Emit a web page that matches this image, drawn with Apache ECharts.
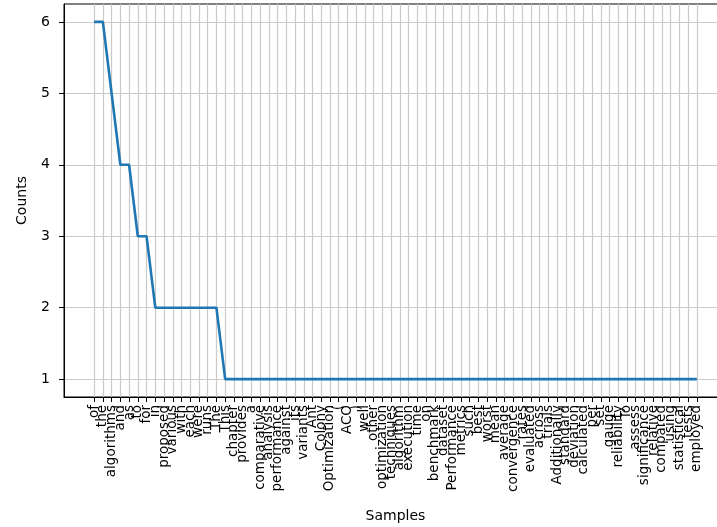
<!DOCTYPE html>
<html>
<head>
<meta charset="utf-8">
<script src="https://cdn.jsdelivr.net/npm/echarts@6/dist/echarts.min.js"></script>
<style>
  html, body { margin: 0; padding: 0; background: #fff; }
  #chart { width: 717px; height: 527px; }
</style>
</head>
<body>
<div id="chart"></div>
<script>
// word samples, in frequency order
const words = [
  'of', 'the', 'algorithms', 'and', 'as', 'to', 'for', 'in', 'proposed', 'various',
  'with', 'each', 'were', 'runs', 'The', 'This', 'chapter', 'provides', 'a', 'comparative',
  'analysis', 'performance', 'against', 'its', 'variants', 'Ant', 'Colony', 'Optimization', '(', 'ACO',
  ')', 'well', 'other', 'optimization', 'techniques', 'algorithm', 'execution', 'time', 'on', 'benchmark',
  'dataset', 'Performance', 'metrics', 'such', 'best', 'worst', 'mean', 'average', 'convergence', 'rates',
  'evaluated', 'across', 'trials', 'Additionally', 'standard', 'deviation', 'calculated', 'per', 'set', 'gauge',
  'reliability', 'To', 'assess', 'significance', 'relative', 'compared', 'using', 'statistical', 'tests', 'employed'
]
const counts = [
  6, 6, 5, 4, 4, 3, 3, 2, 2, 2,
  2, 2, 2, 2, 2, 1, 1, 1, 1, 1,
  1, 1, 1, 1, 1, 1, 1, 1, 1, 1,
  1, 1, 1, 1, 1, 1, 1, 1, 1, 1,
  1, 1, 1, 1, 1, 1, 1, 1, 1, 1,
  1, 1, 1, 1, 1, 1, 1, 1, 1, 1,
  1, 1, 1, 1, 1, 1, 1, 1, 1, 1
]
const yTicks = [1, 2, 3, 4, 5, 6]

const xTicks = words.map((w, i) => i)
// matplotlib style 5% margins
const xPad = 0.05 * (words.length - 1)
const yPad = 0.05 * (Math.max(...counts) - Math.min(...counts))
const xMin = -xPad
const xMax = words.length - 1 + xPad
// blank labels at both ends so echarts doesn't drop "the"/"tests" next to the edge labels
const xLabelValues = [xMin, ...xTicks, xMax]

const chart = echarts.init(document.getElementById('chart'), null, { renderer: 'canvas' })

const font = 'DejaVu Sans'
const gridLine = { show: true, lineStyle: { color: '#cacaca', width: 1.2 } }

const option = {
  backgroundColor: '#ffffff',
  animation: false,
  grid: {
    left: 64,
    top: 4,
    width: 663,
    height: 393,
    outerBoundsMode: 'none',
    containLabel: false,
    show: true,
    borderColor: '#000',
    borderWidth: 1,
    backgroundColor: 'transparent'
  },
  xAxis: {
    type: 'value',
    min: xMin,
    max: xMax,
    name: 'Samples',
    nameLocation: 'middle',
    nameGap: 112,
    nameTextStyle: { fontFamily: font, fontSize: 14, color: '#000' },
    axisLine: { show: true, onZero: false, lineStyle: { color: '#000', width: 1 } },
    axisTick: { show: true, customValues: xTicks, length: 5, lineStyle: { color: '#000' } },
    axisLabel: {
      customValues: xLabelValues,
      rotate: 90,
      margin: 8,
      hideOverlap: false,
      fontFamily: font,
      fontSize: 13.5,
      color: '#000',
      formatter: v => {
        const i = Math.round(v)
        return (Math.abs(v - i) < 1e-6 && words[i] !== undefined) ? words[i] : ''
      }
    },
    splitLine: gridLine
  },
  yAxis: {
    type: 'value',
    min: Math.min(...counts) - yPad,
    max: Math.max(...counts) + yPad,
    name: 'Counts',
    nameLocation: 'middle',
    nameGap: 35,
    nameTextStyle: { fontFamily: font, fontSize: 14, color: '#000' },
    axisLine: { show: true, onZero: false, lineStyle: { color: '#000', width: 1 } },
    axisTick: { show: true, customValues: yTicks, length: 5, lineStyle: { color: '#000' } },
    axisLabel: {
      customValues: yTicks,
      margin: 14,
      fontFamily: font,
      fontSize: 14,
      color: '#000'
    },
    splitLine: gridLine
  },
  series: [{
    type: 'line',
    data: counts.map((c, i) => [i, c]),
    symbol: 'none',
    lineStyle: { color: '#1f77b4', width: 2.6 }
  }]
}

chart.setOption(option)
</script>
</body>
</html>
